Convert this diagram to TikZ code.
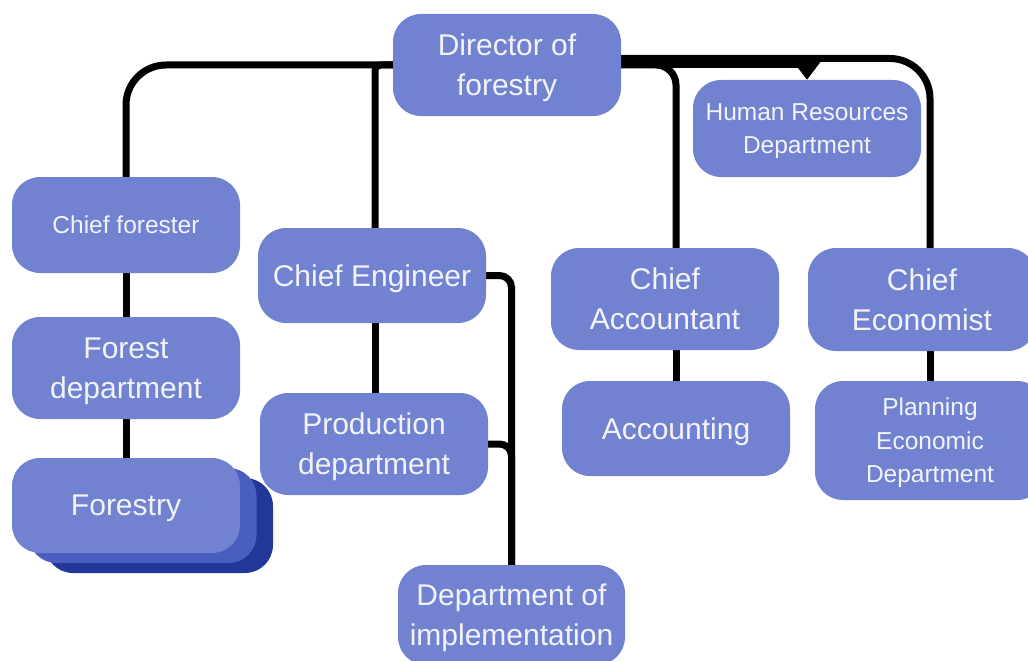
\documentclass[tikz,border=0pt]{standalone}
\usepackage{fontspec}
\setmainfont{Liberation Sans}
\usetikzlibrary{arrows.meta,backgrounds}
\definecolor{boxblue}{RGB}{113,131,208}
\definecolor{shadeA}{RGB}{74,94,194}
\definecolor{shadeB}{RGB}{35,55,155}
\definecolor{txt}{RGB}{242,243,250}
\begin{document}
\begin{tikzpicture}[x=1pt,y=-1pt,
  box/.style={rectangle, rounded corners=28pt, fill=boxblue, text=txt, align=center, inner sep=0pt, text depth=0pt, minimum width=228pt, font=\fontsize{30}{40}\selectfont},
  small/.style={font=\fontsize{24.5}{33.5}\selectfont},
  conn/.style={draw=black, line width=7pt}]
\useasboundingbox (0,0) rectangle (1028,661);
\clip (0,0) rectangle (1028,661);
\node[box, minimum height=102pt] (dir) at (507,65) {Director of\\forestry};
\node[box, small, minimum height=97pt] (hr) at (807,128.5) {Human Resources\\Department};
\node[box, small, minimum height=96pt] (cf) at (126,225) {Chief forester};
\node[box, minimum height=95pt] (ce) at (372,275.5) {Chief Engineer};
\node[box, minimum height=102pt] (fd) at (126,368) {Forest\\department};
\node[box, minimum height=102pt] (pd) at (374,444) {Production\\department};
\node[box, fill=shadeB, minimum height=95pt] (fo3) at (159,525.5) {};
\node[box, fill=shadeA, minimum height=95pt] (fo2) at (142.5,515.5) {};
\node[box, minimum height=95pt] (fo) at (126,505.5) {Forestry};
\node[box, minimum height=100pt, minimum width=227pt] (di) at (511.5,615) {Department of\\implementation};
\node[box, minimum height=102pt] (ca) at (665,299) {Chief\\Accountant};
\node[box, minimum height=95pt] (ac) at (676,428.5) {Accounting};
\node[box, minimum height=103pt] (cec) at (922,299.5) {Chief\\Economist};
\node[box, small, minimum height=119pt, minimum width=230pt] (pe) at (930,440.5) {Planning\\Economic\\Department};
\begin{pgfonlayer}{background}
\fill[white] (0,0) rectangle (1028,661);
\draw[conn, rounded corners=40pt] (dir.west) -| (cf.north);
\draw[conn, rounded corners=6pt] ([xshift=3pt]ce.north) |- (dir.west);
\draw[conn] (cf.south) -- (fd.north);
\draw[conn] (fd.south) -- (fo.north);
\draw[conn] ([xshift=3pt]ce.south) -- ([xshift=1pt]pd.north);
\draw[conn, rounded corners=12pt] (ce.east) -| (di.north);
\draw[conn, rounded corners=12pt] (pd.east) -| (di.north);
\draw[conn, rounded corners=20pt] (dir.east) -| (ac.north |- ca.north);
\draw[conn] (ac.north |- ca.south) -- (ac.north);
\draw[conn, rounded corners=40pt] ([yshift=6.5pt]dir.east) -| (pe.north |- cec.north);
\draw[conn] (pe.north |- cec.south) -- (pe.north);
\draw[conn, -{Triangle[width=26pt,length=18pt]}] (dir.east) -| (hr.north);
\end{pgfonlayer}
\end{tikzpicture}
\end{document}
